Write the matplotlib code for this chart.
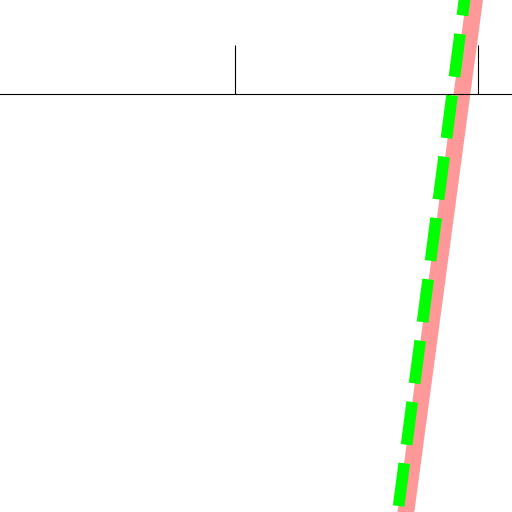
import matplotlib
matplotlib.use("Agg")
import matplotlib.pyplot as plt

# two near-parallel lines (data units)
pink_x = [1.666, 2.068]
pink_y = [-2.0, 1.0]
green_x = [1.634, 2.024]
green_y = [-2.0, 1.0]
tick_pos = [1, 2]

fig = plt.figure(figsize=(5.12, 5.12), dpi=100)
ax = fig.add_axes([0, 0, 1, 1])

ax.plot(pink_x, pink_y, color="#ff9999", lw=12)
ax.plot(green_x, green_y, color="#00ff00", lw=8.4, ls=(4.7, (3.7, 1.6)))

ax.set_xlim(0.033, 2.140)
ax.set_ylim(-1.720, 0.387)

for s in ["top", "left", "right"]:
    ax.spines[s].set_visible(False)
ax.spines["bottom"].set_position(("data", 0))
ax.set_xticks(tick_pos)
ax.set_xticklabels([])
ax.set_yticks([])
ax.tick_params(axis="x", direction="in", length=35)

fig.savefig("out.png", dpi=100)
